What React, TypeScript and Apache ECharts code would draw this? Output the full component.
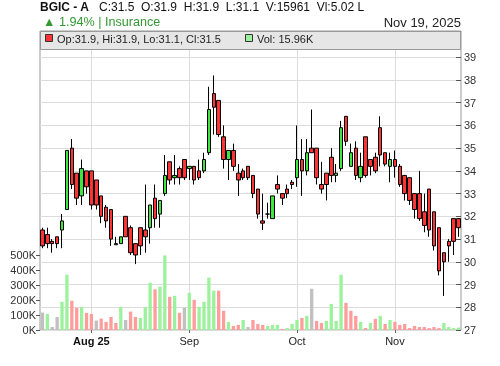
import React, { useEffect, useRef } from 'react';
import * as echarts from 'echarts';

// Daily OHLC (index 0 .. 85, last = Nov 19, 2025)
const opens = [
  31.4, 31.2, 30.9, 31.1, 31.4, 32.3, 35.0, 33.9, 32.9, 34.0,
  34.0, 33.6, 32.9, 32.4, 32.3, 30.75, 30.8, 32.0, 31.5, 30.8,
  31.5, 31.4, 31.5, 32.8, 32.1, 33.0, 34.4, 33.7, 34.1, 34.5,
  34.1, 34.2, 34.0, 34.0, 34.8, 37.4, 37.1, 35.5, 34.5, 34.9,
  33.9, 34.0, 34.2, 33.8, 33.2, 31.8, 32.1, 31.9, 33.4, 33.0,
  33.2, 33.5, 33.7, 34.5, 34.0, 35.0, 35.0, 33.4, 33.9, 34.6,
  33.8, 34.1, 36.4, 34.2, 35.0, 33.7, 35.5, 34.5, 34.6, 35.9,
  34.8, 34.2, 34.5, 34.2, 33.8, 33.7, 33.0, 33.0, 32.2, 33.2,
  32.2, 31.5, 30.4, 30.9, 31.9, 31.9,
];
const closes = [
  30.7, 30.8, 30.8, 30.8, 31.8, 34.9, 33.4, 32.8, 34.1, 33.3,
  32.5, 32.5, 32.0, 31.8, 31.0, 30.8, 31.1, 31.1, 30.4, 30.3,
  30.7, 31.1, 32.5, 31.9, 32.7, 33.8, 33.6, 33.8, 33.7, 33.7,
  34.2, 33.6, 33.7, 34.5, 36.7, 36.8, 35.6, 34.5, 34.9, 34.2,
  33.6, 33.7, 33.7, 33.0, 32.1, 31.7, 32.1, 32.9, 33.2, 32.8,
  33.0, 33.4, 34.5, 34.0, 34.8, 34.8, 33.7, 33.2, 33.4, 33.8,
  33.9, 35.9, 35.3, 34.8, 33.8, 34.2, 33.8, 34.2, 34.0, 34.7,
  34.3, 34.5, 34.2, 33.4, 33.0, 32.7, 32.3, 31.9, 31.6, 31.4,
  30.7, 29.6, 30.0, 30.7, 30.9, 31.5,
];
const lows = [
  30.6, 30.6, 30.4, 30.6, 30.6, 32.3, 33.2, 32.5, 32.5, 33.0,
  32.3, 32.3, 31.7, 31.5, 30.7, 30.75, 30.8, 31.1, 30.3, 29.9,
  30.3, 30.4, 30.8, 31.5, 31.5, 32.9, 33.4, 33.4, 33.4, 33.6,
  33.6, 33.4, 33.6, 33.9, 34.7, 35.6, 35.5, 34.1, 33.6, 34.0,
  32.9, 33.6, 33.6, 32.8, 31.9, 31.4, 31.9, 31.9, 33.0, 32.5,
  32.8, 33.2, 33.3, 32.9, 33.8, 34.8, 33.4, 33.0, 32.7, 33.5,
  33.5, 34.0, 35.1, 34.2, 33.6, 33.5, 33.7, 33.8, 33.9, 34.2,
  34.2, 33.5, 33.7, 33.3, 32.7, 32.5, 31.9, 31.8, 31.3, 31.1,
  30.5, 29.4, 28.5, 30.0, 30.3, 31.1,
];
const highs = [
  31.5, 31.5, 31.0, 31.1, 32.1, 34.9, 35.4, 33.9, 34.5, 34.0,
  34.0, 33.6, 32.9, 32.5, 32.3, 31.1, 31.1, 32.0, 31.6, 30.8,
  31.5, 33.4, 32.5, 33.4, 32.7, 34.7, 34.4, 34.7, 34.2, 34.5,
  34.2, 34.2, 34.5, 34.8, 37.7, 38.2, 37.1, 36.0, 34.9, 35.2,
  34.3, 34.1, 34.2, 33.8, 33.2, 33.0, 32.6, 32.9, 33.8, 33.0,
  33.4, 33.6, 36.0, 35.4, 35.4, 36.7, 35.0, 34.4, 33.9, 35.0,
  34.3, 36.2, 36.4, 35.2, 35.3, 34.8, 35.5, 34.5, 34.8, 36.4,
  34.8, 34.8, 34.9, 34.3, 33.8, 33.7, 33.0, 34.0, 33.0, 33.2,
  32.2, 31.5, 30.4, 31.0, 31.9, 31.9,
];
const volumes = [
  116000, 107000, 20000, 87000, 188000, 369000, 195000, 148000, 154000, 114000,
  107000, 63000, 76000, 54000, 87000, 47000, 154000, 67000, 123000, 87000,
  80000, 153000, 315000, 271000, 289000, 497000, 221000, 228000, 114000, 148000,
  248000, 201000, 154000, 188000, 349000, 262000, 262000, 128000, 54000, 27000,
  34000, 67000, 20000, 67000, 40000, 34000, 27000, 34000, 34000, 7000,
  13000, 40000, 67000, 80000, 94000, 275000, 60000, 47000, 60000, 174000,
  60000, 369000, 181000, 128000, 94000, 54000, 13000, 47000, 74000, 94000,
  40000, 67000, 54000, 34000, 40000, 13000, 27000, 20000, 20000, 13000,
  20000, 13000, 47000, 20000, 13000, 15961,
];
// Month tick labels: [category index, text, isYearLabel]
const monthTicks: [number, string, boolean][] = [
  [10, 'Aug 25', true],
  [30, 'Sep', false],
  [52, 'Oct', false],
  [72, 'Nov', false],
];
const volumeTicks = [0, 100000, 200000, 300000, 400000, 500000];
const priceMin = 27;
const priceTopLabel = 39;
const symbolName = 'BGIC - A';
const sectorName = 'Insurance';
const dateLabel = 'Nov 19, 2025';
const valueText = 'Vl:5.02 L';

const FONT = 'Arial, "Liberation Sans", sans-serif';
const UP = '#3ee63e';
const DOWN = '#ff3333';
const VOL_UP = '#9cf29c';
const VOL_DOWN = '#ff9c9c';
const VOL_FLAT = '#c0c0c0';

export default function App() {
  const ref = useRef<HTMLDivElement>(null);
  useEffect(() => {
    if (!ref.current) return;
    const chart = echarts.init(ref.current, undefined, { renderer: 'svg' });
    const n = closes.length;
    const categories = closes.map((_, i) => String(i));
    const candleData = closes.map((c, i) => [opens[i], c, lows[i], highs[i]]);
    const volData = volumes.map((v, i) => {
      let color = VOL_FLAT;
      if (i > 0) {
        if (closes[i] > closes[i - 1]) color = VOL_UP;
        else if (closes[i] < closes[i - 1]) color = VOL_DOWN;
      }
      return { value: v, itemStyle: { color } };
    });
    const tickIdx = monthTicks.map((t) => t[0]);
    const last = n - 1;
    const prevClose = closes[last - 1];
    const chg = ((closes[last] - prevClose) / prevClose) * 100;
    const headerLine = `C:${closes[last]}  O:${opens[last]}  H:${highs[last]}  L:${lows[last]}  V:${volumes[last]}  ${valueText}`;
    const legendText = `Op:${opens[last]}, Hi:${highs[last]}, Lo:${lows[last]}, Cl:${closes[last]}`;
    const volText = `Vol: ${(volumes[last] / 1000).toFixed(2)}K`;

    const plotLeft = 40;
    const plotRight = 39;
    const plotTop = 31;
    const plotBottom = 36;
    const plotH = 366 - plotTop - plotBottom;
    const pxPerUnit = 22.73;
    const priceMax = priceMin + plotH / pxPerUnit;
    const volTop = 366 - plotBottom - 75;

    chart.setOption({
      animation: false,
      textStyle: { fontFamily: FONT },
      grid: [
        {
          left: plotLeft, right: plotRight, top: plotTop, bottom: plotBottom,
          show: true, borderColor: '#999', borderWidth: 1, backgroundColor: 'transparent',
        },
        { left: plotLeft, right: plotRight, top: volTop, bottom: plotBottom, show: false },
      ],
      xAxis: [
        {
          type: 'category', gridIndex: 0, data: categories, boundaryGap: true,
          axisLine: { show: false },
          axisTick: {
            show: true, alignWithLabel: true, length: 3,
            interval: (idx: number) => tickIdx.includes(idx),
            lineStyle: { color: '#666' },
          },
          axisLabel: {
            interval: (idx: number) => tickIdx.includes(idx),
            formatter: (_v: string, idx: number) => {
              const t = monthTicks.find((m) => m[0] === idx);
              if (!t) return '';
              return t[2] ? `{b|${t[1]}}` : t[1];
            },
            fontSize: 11, color: '#222', margin: 5, fontFamily: FONT,
            rich: { b: { fontWeight: 'bold', fontSize: 11, color: '#111', fontFamily: FONT } },
          },
          splitLine: { show: false },
        },
        {
          type: 'category', gridIndex: 1, data: categories, boundaryGap: true, show: false,
        },
      ],
      yAxis: [
        {
          type: 'value', gridIndex: 0, position: 'right', min: priceMin, max: priceMax, interval: 1,
          axisLine: { show: false },
          axisTick: { show: true, inside: true, length: 5, lineStyle: { color: '#555' } },
          axisLabel: {
            margin: 3, fontSize: 11, color: '#333', fontFamily: FONT,
            formatter: (v: number) => (Number.isInteger(v) && v <= priceTopLabel ? String(v) : ''),
          },
          splitLine: { show: true, lineStyle: { color: '#dcdcdc', width: 1 } },
        },
        {
          type: 'value', gridIndex: 1, position: 'left', min: volumeTicks[0],
          max: volumeTicks[volumeTicks.length - 1], interval: volumeTicks[1] - volumeTicks[0],
          axisLine: { show: false },
          axisTick: { show: true, length: 4, lineStyle: { color: '#555' } },
          axisLabel: {
            margin: 4, fontSize: 11, color: '#333', fontFamily: FONT,
            formatter: (v: number) => `${v / 1000}K`,
          },
          splitLine: { show: false },
        },
      ],
      series: [
        {
          type: 'line', xAxisIndex: 0, yAxisIndex: 0, data: [], z: 0, silent: true,
          markLine: {
            silent: true, symbol: ['none', 'none'], z: 0,
            label: { show: false },
            lineStyle: { color: '#dcdcdc', width: 1, type: 'solid' },
            emphasis: { disabled: true },
            data: monthTicks.map((t) => ({ xAxis: t[0] })),
          },
        },
        {
          type: 'bar', xAxisIndex: 1, yAxisIndex: 1, data: volData, barWidth: 3.3, z: 1,
          clip: false,
        },
        {
          type: 'candlestick', xAxisIndex: 0, yAxisIndex: 0, data: candleData, barWidth: 4, z: 3,
          itemStyle: {
            color: UP, color0: DOWN, borderColor: '#000', borderColor0: '#000',
            borderColorDoji: '#000', borderWidth: 1,
          },
        },
      ],
      graphic: [
        {
          type: 'rect', z: 100,
          shape: { x: plotLeft + 0.5, y: plotTop + 0.5, width: 500 - plotLeft - plotRight - 1, height: 18 },
          style: { fill: '#e6e6e6', stroke: '#999', lineWidth: 1 },
        },
        {
          type: 'rect', z: 101, shape: { x: 45.5, y: 34.5, width: 7, height: 7 },
          style: { fill: DOWN, stroke: '#333', lineWidth: 1 },
        },
        {
          type: 'text', z: 101, x: 57, y: 39,
          style: { text: legendText, fontSize: 11, fontFamily: FONT, fill: '#222', verticalAlign: 'middle' },
        },
        {
          type: 'rect', z: 101, shape: { x: 245.5, y: 34.5, width: 7, height: 7 },
          style: { fill: VOL_UP, stroke: '#333', lineWidth: 1 },
        },
        {
          type: 'text', z: 101, x: 257, y: 39,
          style: { text: volText, fontSize: 11, fontFamily: FONT, fill: '#222', verticalAlign: 'middle' },
        },
        {
          type: 'text', z: 101, x: 40, y: 7,
          style: { text: symbolName, fontSize: 12, fontWeight: 'bold', fontFamily: FONT, fill: '#111', verticalAlign: 'middle' },
        },
        {
          type: 'text', z: 101, x: 99, y: 7,
          style: { text: headerLine, fontSize: 12, fontFamily: FONT, fill: '#111', verticalAlign: 'middle' },
        },
        {
          type: 'text', z: 101, x: 43, y: 22,
          style: {
            text: `${chg >= 0 ? '▲' : '▼'} ${chg.toFixed(2)}% | ${sectorName}`,
            fontSize: 12.6, fontFamily: FONT, fill: chg >= 0 ? '#339933' : '#cc3333', verticalAlign: 'middle',
          },
        },
        {
          type: 'text', z: 101, x: 461, y: 22,
          style: { text: dateLabel, fontSize: 13, fontFamily: FONT, fill: '#222', align: 'right', verticalAlign: 'middle' },
        },
      ],
    });
    return () => chart.dispose();
  }, []);
  return <div ref={ref} style={{ position: 'fixed', left: 0, top: 0, width: 500, height: 366 }} />;
}
